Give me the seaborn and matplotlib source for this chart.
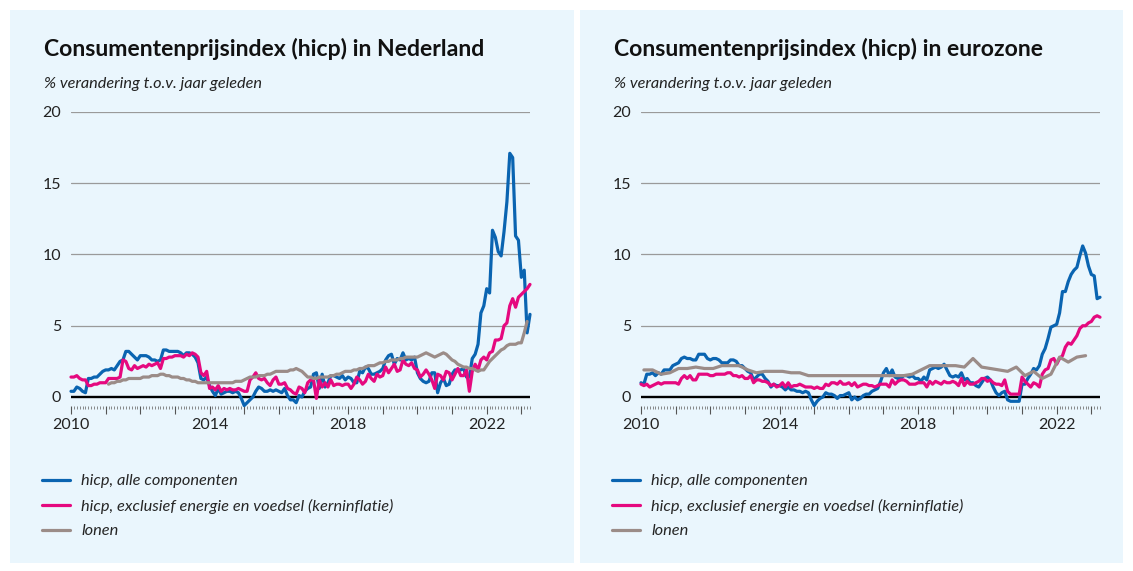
import numpy as np
import pandas as pd
import matplotlib.pyplot as plt
import seaborn as sns
from matplotlib.patches import Rectangle
from matplotlib.ticker import MultipleLocator

# --- data: year-on-year % change, monthly from Jan 2010 (wages NL from Feb 2011, wages EA quarterly) ---
nl_hicp = [
    0.4, 0.4, 0.7, 0.6, 0.4, 0.3, 1.3, 1.3, 1.4, 1.4, 1.6, 1.8,
    1.9, 1.9, 2.0, 1.9, 2.2, 2.5, 2.6, 3.2, 3.2, 3.0, 2.8, 2.6,
    2.9, 2.9, 2.9, 2.8, 2.6, 2.6, 2.5, 2.6, 3.3, 3.3, 3.2, 3.2,
    3.2, 3.2, 3.1, 2.9, 3.1, 3.1, 3.0, 2.8, 2.4, 1.3, 1.2, 1.4,
    0.8, 0.4, 0.1, 0.6, 0.2, 0.3, 0.4, 0.4, 0.3, 0.4, 0.3, -0.1,
    -0.6, -0.4, -0.2, 0.0, 0.4, 0.7, 0.6, 0.4, 0.4, 0.5, 0.4, 0.5,
    0.4, 0.3, 0.6, 0.1, -0.2, -0.2, -0.4, 0.1, 0.0, 0.4, 0.6, 0.7,
    1.6, 1.7, 0.6, 1.6, 0.7, 1.0, 1.5, 1.5, 1.4, 1.3, 1.5, 1.2,
    1.4, 1.3, 1.0, 1.0, 1.8, 1.7, 2.1, 2.0, 1.6, 1.6, 1.7, 1.8,
    2.0, 2.6, 2.9, 3.0, 2.3, 2.7, 2.6, 3.1, 2.6, 2.7, 2.6, 2.8,
    1.7, 1.3, 1.1, 1.0, 1.1, 1.7, 1.7, 0.3, 1.0, 1.3, 0.8, 0.9,
    1.6, 1.9, 1.9, 1.9, 2.0, 1.4, 1.4, 2.7, 3.0, 3.7, 5.9, 6.4,
    7.6, 7.3, 11.7, 11.2, 10.2, 9.9, 11.6, 13.7, 17.1, 16.8, 11.3, 11.0,
    8.4, 8.9, 4.5, 5.8,
]
nl_core = [
    1.4, 1.4, 1.5, 1.3, 1.2, 1.2, 0.8, 0.8, 0.9, 0.9, 1.0, 1.0,
    1.0, 1.3, 1.3, 1.3, 1.3, 1.4, 2.6, 2.5, 2.0, 1.9, 2.2, 2.0,
    2.1, 2.2, 2.1, 2.3, 2.2, 2.3, 2.4, 2.0, 2.7, 2.7, 2.8, 2.8,
    2.9, 2.9, 2.9, 2.8, 3.0, 2.9, 3.1, 3.0, 2.8, 1.7, 1.5, 1.8,
    0.6, 0.7, 0.5, 0.8, 0.4, 0.6, 0.5, 0.6, 0.5, 0.5, 0.6, 0.5,
    0.4, 0.4, 1.2, 1.4, 1.7, 1.3, 1.2, 1.3, 1.0, 0.8, 1.2, 1.4,
    0.9, 0.9, 1.0, 0.6, 0.5, 0.3, 0.2, 0.7, 0.6, 0.3, 1.0, 1.2,
    1.2, -0.1, 1.2, 0.7, 1.0, 0.7, 1.2, 0.8, 0.9, 0.9, 0.8, 0.9,
    0.9, 0.6, 0.9, 1.4, 1.2, 0.9, 1.1, 1.6, 1.3, 1.1, 1.6, 1.4,
    1.5, 2.1, 1.7, 2.0, 2.3, 1.8, 1.9, 2.6, 2.3, 2.2, 2.4, 2.0,
    1.9, 1.4, 1.6, 1.9, 1.6, 1.2, 0.6, 1.6, 1.5, 1.2, 1.8, 1.7,
    1.2, 1.6, 2.0, 1.5, 1.5, 1.9, 0.4, 1.8, 2.3, 1.9, 2.6, 2.8,
    2.6, 3.1, 3.2, 4.0, 4.0, 4.1, 5.0, 5.2, 6.4, 6.9, 6.3, 7.0,
    7.2, 7.4, 7.6, 7.9,
]
nl_wages = [
    0.9, 1.0, 1.0, 1.1, 1.1, 1.2, 1.2, 1.3, 1.3, 1.3, 1.3,
    1.3, 1.4, 1.4, 1.4, 1.5, 1.5, 1.5, 1.6, 1.6, 1.5, 1.5, 1.4,
    1.4, 1.4, 1.3, 1.3, 1.2, 1.2, 1.1, 1.1, 1.0, 1.0, 1.0, 1.0,
    1.0, 1.0, 1.0, 1.0, 1.0, 1.0, 1.0, 1.0, 1.0, 1.1, 1.1, 1.1,
    1.2, 1.3, 1.4, 1.4, 1.4, 1.5, 1.5, 1.5, 1.6, 1.6, 1.7, 1.8,
    1.8, 1.8, 1.8, 1.8, 1.9, 1.9, 2.0, 1.9, 1.8, 1.6, 1.4, 1.4,
    1.3, 1.3, 1.4, 1.4, 1.4, 1.4, 1.5, 1.5, 1.6, 1.6, 1.7, 1.8,
    1.8, 1.8, 1.9, 1.9, 2.0, 2.0, 2.1, 2.2, 2.2, 2.2, 2.3, 2.4,
    2.4, 2.5, 2.5, 2.6, 2.6, 2.6, 2.7, 2.7, 2.8, 2.8, 2.8, 2.8,
    2.8, 2.9, 3.0, 3.1, 3.0, 2.9, 2.8, 2.9, 3.0, 3.1, 3.0, 2.8,
    2.6, 2.5, 2.3, 2.2, 2.1, 2.1, 2.0, 2.0, 1.9, 1.8, 1.9, 1.9,
    2.2, 2.5, 2.7, 2.9, 3.1, 3.3, 3.4, 3.6, 3.7, 3.7, 3.7, 3.8,
    3.8, 4.5, 5.3,
]
ea_hicp = [
    1.0, 0.9, 1.6, 1.6, 1.7, 1.5, 1.7, 1.6, 1.9, 1.9, 1.9, 2.2,
    2.3, 2.4, 2.7, 2.8, 2.7, 2.7, 2.6, 2.6, 3.0, 3.0, 3.0, 2.7,
    2.6, 2.7, 2.7, 2.6, 2.4, 2.4, 2.4, 2.6, 2.6, 2.5, 2.2, 2.2,
    2.0, 1.8, 1.7, 1.2, 1.4, 1.6, 1.6, 1.3, 1.1, 0.7, 0.9, 0.8,
    0.8, 0.7, 0.5, 0.7, 0.5, 0.5, 0.4, 0.4, 0.3, 0.4, 0.3, -0.2,
    -0.6, -0.3, -0.1, 0.0, 0.3, 0.2, 0.2, 0.1, -0.1, 0.1, 0.1, 0.2,
    0.3, -0.2, 0.0, -0.2, -0.1, 0.1, 0.2, 0.2, 0.4, 0.5, 0.6, 1.1,
    1.7, 2.0, 1.5, 1.9, 1.4, 1.3, 1.3, 1.5, 1.5, 1.4, 1.5, 1.3,
    1.3, 1.1, 1.4, 1.2, 1.9, 2.0, 2.1, 2.0, 2.1, 2.3, 1.9, 1.5,
    1.4, 1.5, 1.4, 1.7, 1.2, 1.3, 1.0, 1.0, 0.8, 0.7, 1.0, 1.3,
    1.4, 1.2, 0.7, 0.3, 0.1, 0.3, 0.4, -0.2, -0.3, -0.3, -0.3, -0.3,
    0.9, 0.9, 1.3, 1.6, 2.0, 1.9, 2.2, 3.0, 3.4, 4.1, 4.9, 5.0,
    5.1, 5.9, 7.4, 7.4, 8.1, 8.6, 8.9, 9.1, 9.9, 10.6, 10.1, 9.2,
    8.6, 8.5, 6.9, 7.0,
]
ea_core = [
    0.9, 0.8, 0.9, 0.7, 0.8, 0.9, 1.0, 0.9, 1.0, 1.0, 1.0, 1.0,
    1.0, 0.9, 1.3, 1.5, 1.3, 1.5, 1.2, 1.2, 1.6, 1.6, 1.6, 1.6,
    1.5, 1.5, 1.6, 1.6, 1.6, 1.6, 1.7, 1.7, 1.5, 1.5, 1.4, 1.5,
    1.3, 1.3, 1.5, 1.0, 1.2, 1.2, 1.1, 1.1, 1.0, 0.8, 0.9, 0.7,
    0.8, 1.0, 0.7, 1.0, 0.7, 0.8, 0.8, 0.9, 0.8, 0.7, 0.7, 0.7,
    0.6, 0.7, 0.6, 0.6, 0.9, 0.8, 1.0, 1.0, 0.9, 1.1, 0.9, 0.9,
    1.0, 0.8, 1.0, 0.7, 0.8, 0.9, 0.9, 0.8, 0.8, 0.7, 0.8, 0.9,
    0.9, 0.9, 0.7, 1.2, 0.9, 1.1, 1.2, 1.2, 1.1, 0.9, 0.9, 0.9,
    1.0, 1.0, 1.0, 0.7, 1.1, 0.9, 1.1, 1.0, 0.9, 1.1, 1.0, 1.0,
    1.1, 1.0, 0.8, 1.3, 0.8, 1.1, 0.9, 0.9, 1.0, 1.1, 1.3, 1.3,
    1.1, 1.2, 1.0, 0.9, 0.9, 0.8, 1.2, 0.4, 0.2, 0.2, 0.2, 0.2,
    1.4, 1.1, 0.9, 0.7, 1.0, 0.9, 0.7, 1.6, 1.9, 2.0, 2.6, 2.7,
    2.3, 2.7, 2.9, 3.5, 3.8, 3.7, 4.0, 4.3, 4.8, 5.0, 5.0, 5.2,
    5.3, 5.6, 5.7, 5.6,
]
ea_wages = [
    1.9, 1.9, 1.6, 1.7,
    2.0, 2.0, 2.1, 2.0,
    2.0, 2.2, 2.2, 2.2,
    1.9, 1.7, 1.8, 1.8,
    1.8, 1.7, 1.7, 1.5,
    1.5, 1.5, 1.5, 1.5,
    1.5, 1.5, 1.5, 1.5,
    1.5, 1.5, 1.5, 1.6,
    1.9, 2.2, 2.2, 2.2,
    2.2, 2.1, 2.7, 2.1,
    2.0, 1.9, 1.8, 2.1,
    1.5, 1.8, 1.3, 1.6,
    2.8, 2.45, 2.8, 2.9,
]

titles = ["Consumentenprijsindex (hicp) in Nederland",
          "Consumentenprijsindex (hicp) in eurozone"]
subtitle = "% verandering t.o.v. jaar geleden"
labels = ["hicp, alle componenten",
          "hicp, exclusief energie en voedsel (kerninflatie)",
          "lonen"]
year_labels = [2010, 2014, 2018, 2022]

BLUE = "#0a64b1"
PINK = "#e5097f"
GREY = "#9b8c88"
PANEL = "#eaf6fd"


def monthly(n, year=2010, month=1):
    return year + (month - 1 + np.arange(n)) / 12


def quarterly(n, year=2010):
    # plotted at the middle month of each quarter
    return year + (1 + 3 * np.arange(n)) / 12


sns.set_theme(style="white")
plt.rcParams["font.family"] = ["Lato", "DejaVu Sans"]

W, H = 1133, 571
fig = plt.figure(figsize=(W / 100, H / 100), dpi=100)
fig.patch.set_facecolor("white")


def fx(px):
    return px / W


def fy(py):
    return 1 - py / H


# light blue panels behind everything
for x0, x1 in [(10, 574), (580, 1123)]:
    fig.patches.append(Rectangle((fx(x0), fy(563)), fx(x1 - x0), (563 - 10) / H,
                                 transform=fig.transFigure, facecolor=PANEL,
                                 edgecolor="none", zorder=-10))

panels = [
    (71, 44, nl_hicp, nl_core, monthly(len(nl_wages), 2011, 2), nl_wages),
    (641, 614, ea_hicp, ea_core, quarterly(len(ea_wages)), ea_wages),
]

y_bottom, y_top = -0.65, 20
px_per_unit = (397 - 112) / 20.0
ax_bottom_px = 397 - y_bottom * px_per_unit

for i, (left_px, text_px, hicp, core, wage_x, wages) in enumerate(panels):
    ax = fig.add_axes([fx(left_px), fy(ax_bottom_px), fx(459),
                       (ax_bottom_px - 112) / H])
    ax.set_facecolor("none")
    ax.set_zorder(5)

    for yv in [5, 10, 15, 20]:
        ax.axhline(yv, color="#9a9a9a", lw=0.9, zorder=1)
    ax.axhline(0, color="black", lw=1.7, zorder=1)

    df = pd.DataFrame({"jaar": monthly(len(hicp)), "hicp": hicp, "kern": core})
    sns.lineplot(data=df, x="jaar", y="hicp", ax=ax, color=BLUE, lw=2.3,
                 label=labels[0], clip_on=False, zorder=3)
    sns.lineplot(data=df, x="jaar", y="kern", ax=ax, color=PINK, lw=2.3,
                 label=labels[1], clip_on=False, zorder=3)
    sns.lineplot(x=wage_x, y=wages, ax=ax, color=GREY, lw=2.3,
                 label=labels[2], clip_on=False, zorder=3)

    ax.set_xlim(2010, 2023.25)
    ax.set_ylim(y_bottom, y_top)
    ax.set_xlabel("")
    ax.set_ylabel("")
    for s in ax.spines.values():
        s.set_visible(False)

    ax.xaxis.set_major_locator(MultipleLocator(1))
    ax.xaxis.set_minor_locator(MultipleLocator(1 / 12))
    ax.set_xticklabels([str(int(round(t))) if int(round(t)) in year_labels else ""
                        for t in ax.get_xticks()])
    ax.tick_params(axis="x", which="major", direction="out", length=5.5,
                   width=0.8, color="#555555", labelsize=11.5, pad=3,
                   labelcolor="#222222", bottom=True)
    ax.tick_params(axis="x", which="minor", direction="out", length=2.5,
                   width=0.6, color="#777777", bottom=True)
    ax.set_yticks([0, 5, 10, 15, 20])
    ax.tick_params(axis="y", length=0, labelsize=11.5, pad=7,
                   labelcolor="#222222")

    fig.text(fx(text_px), fy(56), titles[i], fontsize=16.6, fontweight="bold",
             color="#111111", va="baseline", ha="left")
    fig.text(fx(text_px), fy(88), subtitle, fontsize=11.7, style="italic",
             color="#222222", va="baseline", ha="left")

    ax.legend(loc="upper left", bbox_to_anchor=(fx(text_px - 2), fy(474)),
              bbox_transform=fig.transFigure, frameon=False,
              prop={"style": "italic", "size": 11.8}, handlelength=1.7,
              handletextpad=0.7, labelspacing=0.62, borderpad=0,
              borderaxespad=0)

fig.savefig("out.png", dpi=100, facecolor="white")
